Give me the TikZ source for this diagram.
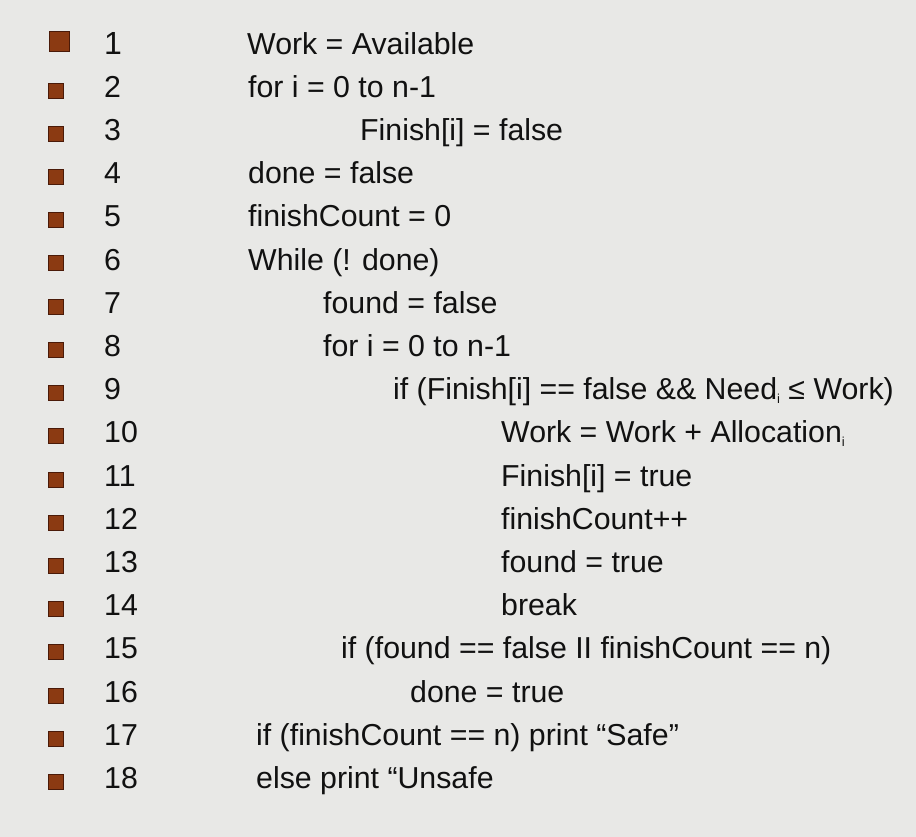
\documentclass[tikz,border=0pt]{standalone}
\usepackage{fontspec}
\setmainfont{Liberation Sans}
\definecolor{bgc}{HTML}{E8E8E6}
\definecolor{bul}{HTML}{8B3A12}
\definecolor{buld}{HTML}{4A1A08}
\definecolor{txt}{HTML}{111111}
\newcommand{\sbi}{\raisebox{-0.25ex}{\fontsize{13}{13}\selectfont i}}
\tikzset{
  codeline/.style={anchor=base west, inner sep=0pt, text=txt, font=\fontsize{30.3}{34}\selectfont},
  numtxt/.style={anchor=base west, inner sep=0pt, text=txt, font=\fontsize{30.3}{34}\selectfont},
  bulletbox/.style={fill=bul, draw=buld, line width=1pt, minimum size=15pt, inner sep=0pt},
  bigbullet/.style={bulletbox, minimum size=20pt}
}
\begin{document}
\begin{tikzpicture}[x=1pt,y=-1pt]
\fill[bgc] (0,0) rectangle (916,837);
\useasboundingbox (0,0) rectangle (916,837);
\node[bigbullet] (b1) at (59.5,41.5) {};
\node[numtxt, font=\fontsize{32}{36}\selectfont] (n1) at (104,54.5) {1};
\foreach \k in {2,...,18}{
  \pgfmathsetmacro{\yy}{54+(\k-1)*43.2}
  \node[bulletbox] (b\k) at (56,\yy-6.5) {};
  \node[numtxt] (n\k) at (104,\yy) {\k};
}
\node[codeline] (t1) at (247,54.5) {Work = Available};
\node[codeline] (t2) at (248,97.2) {for i = 0 to n-1};
\node[codeline] (t3) at (360,140.4) {Finish[i] = false};
\node[codeline] (t4) at (248,183.6) {done = false};
\node[codeline] (t5) at (248,226.8) {finishCount = 0};
\node[codeline] (t6) at (248,270) {While (! done)};
\node[codeline] (t7) at (323,313.2) {found = false};
\node[codeline] (t8) at (323,356.4) {for i = 0 to n-1};
\node[codeline] (t9) at (393,399.6) {if (Finish[i] == false \&\& Need\sbi\ ≤ Work)};
\node[codeline] (t10) at (501,442.8) {Work = Work + Allocation\sbi};
\node[codeline] (t11) at (501,486) {Finish[i] = true};
\node[codeline] (t12) at (501,529.2) {finishCount++};
\node[codeline] (t13) at (501,572.4) {found = true};
\node[codeline] (t14) at (501,615.6) {break};
\node[codeline] (t15) at (341,658.8) {if (found == false II finishCount == n)};
\node[codeline] (t16) at (410,702) {done = true};
\node[codeline] (t17) at (256,745.2) {if (finishCount == n) print “Safe”};
\node[codeline] (t18) at (256,788.4) {else print “Unsafe};
\end{tikzpicture}
\end{document}
